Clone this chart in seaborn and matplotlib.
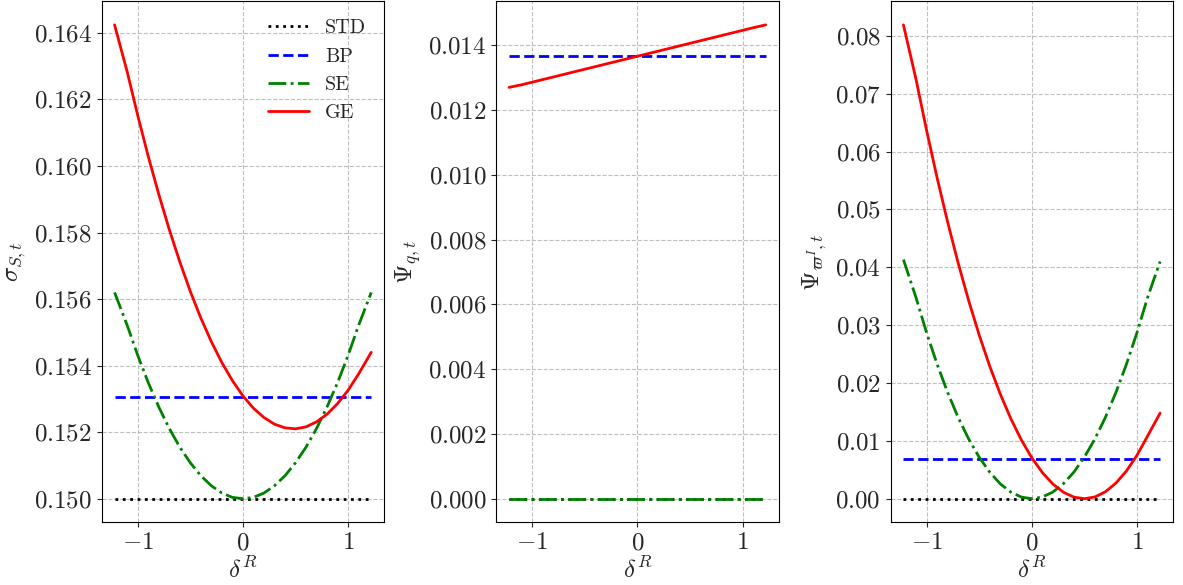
import numpy as np
import pandas as pd
import seaborn as sns
import matplotlib.pyplot as plt
from matplotlib.ticker import MultipleLocator

# shock grid (delta^R)
delta_r = [-1.22, -1.1, -1.0, -0.9, -0.8, -0.7, -0.6, -0.5, -0.4, -0.3, -0.2, -0.1, 0.0,
           0.1, 0.2, 0.3, 0.4, 0.5, 0.6, 0.7, 0.8, 0.9, 1.0, 1.1, 1.22]

# panel 1: sigma_{S,t}
sigma_std = [0.150] * 25
sigma_bp = [0.15307] * 25
sigma_se = [0.15620, 0.15521, 0.15431, 0.15349, 0.15276, 0.15211, 0.15155, 0.15108, 0.15069,
            0.15039, 0.15017, 0.15004, 0.15000, 0.15004, 0.15017, 0.15039, 0.15069, 0.15108,
            0.15155, 0.15211, 0.15276, 0.15349, 0.15431, 0.15521, 0.15620]
sigma_ge = [0.16424, 0.16283, 0.16152, 0.16029, 0.15915, 0.15809, 0.15712, 0.15623, 0.15543,
            0.15472, 0.15409, 0.15355, 0.15309, 0.15272, 0.15244, 0.15224, 0.15213, 0.15210,
            0.15216, 0.15231, 0.15254, 0.15286, 0.15326, 0.15375, 0.15440]

# panel 2: Psi_{q,t}
psiq_std = [0.0] * 25
psiq_bp = [0.01366] * 25
psiq_se = [0.0] * 25
psiq_ge = [0.01270, 0.01278, 0.01286, 0.01294, 0.01302, 0.01310, 0.01318, 0.01326, 0.01334,
           0.01342, 0.01350, 0.01358, 0.01366, 0.01374, 0.01382, 0.01390, 0.01398, 0.01406,
           0.01414, 0.01422, 0.01430, 0.01438, 0.01446, 0.01454, 0.01463]

# panel 3: Psi_{varpi^I,t}
psiw_std = [0.0] * 25
psiw_bp = [0.0069] * 25
psiw_se = [0.04133, 0.03473, 0.02870, 0.02325, 0.01837, 0.01406, 0.01033, 0.00718, 0.00459,
           0.00258, 0.00115, 0.00029, 0.0, 0.00029, 0.00115, 0.00258, 0.00459, 0.00718,
           0.01033, 0.01406, 0.01837, 0.02325, 0.02870, 0.03473, 0.04100]
psiw_ge = [0.08190, 0.07245, 0.06368, 0.05547, 0.04783, 0.04075, 0.03424, 0.02830, 0.02292,
           0.01811, 0.01387, 0.01019, 0.00708, 0.00453, 0.00255, 0.00113, 0.00028, 0.0,
           0.00030, 0.00120, 0.00270, 0.00480, 0.00750, 0.01080, 0.01480]

sns.set_style("ticks")
plt.rcParams['font.family'] = ['cmr10']
plt.rcParams['mathtext.fontset'] = 'cm'
plt.rcParams['axes.formatter.use_mathtext'] = True
plt.rcParams['axes.unicode_minus'] = True

estilos = {
    'STD': dict(color='black', linestyle=':'),
    'BP': dict(color='blue', linestyle='--'),
    'SE': dict(color='green', linestyle='-.'),
    'GE': dict(color='red', linestyle='-'),
}

paineis = [
    (r'$\sigma_{S,t}$', {'STD': sigma_std, 'BP': sigma_bp, 'SE': sigma_se, 'GE': sigma_ge}, 0.002),
    (r'$\Psi_{q,t}$', {'STD': psiq_std, 'BP': psiq_bp, 'SE': psiq_se, 'GE': psiq_ge}, 0.002),
    (r'$\Psi_{\varpi^I,t}$', {'STD': psiw_std, 'BP': psiw_bp, 'SE': psiw_se, 'GE': psiw_ge}, 0.01),
]

fig, axes = plt.subplots(1, 3, figsize=(11.83, 5.85), dpi=100)
fig.subplots_adjust(left=0.086, right=0.9915, top=0.998, bottom=0.107, wspace=0.397)

for i, (ax, (ylabel, series, passo)) in enumerate(zip(axes, paineis)):
    for nome, valores in series.items():
        sns.lineplot(x=delta_r, y=valores, ax=ax, linewidth=2, label=nome, **estilos[nome])
    ax.yaxis.set_major_locator(MultipleLocator(passo))
    ax.xaxis.set_major_locator(MultipleLocator(1))
    ax.grid(True, linestyle='--', color='#b0b0b0', alpha=0.8, linewidth=0.8)
    ax.set_xlabel(r'$\delta^R$', fontsize=18, labelpad=2)
    ax.set_ylabel(ylabel, fontsize=18)
    ax.tick_params(labelsize=18)
    for s in ax.spines.values():
        s.set_color('black')
    if i == 0:
        ax.legend(frameon=False, fontsize=14.5, loc='upper right')
    else:
        leg = ax.get_legend()
        if leg is not None:
            leg.remove()

fig.savefig('out.png', dpi=100)
